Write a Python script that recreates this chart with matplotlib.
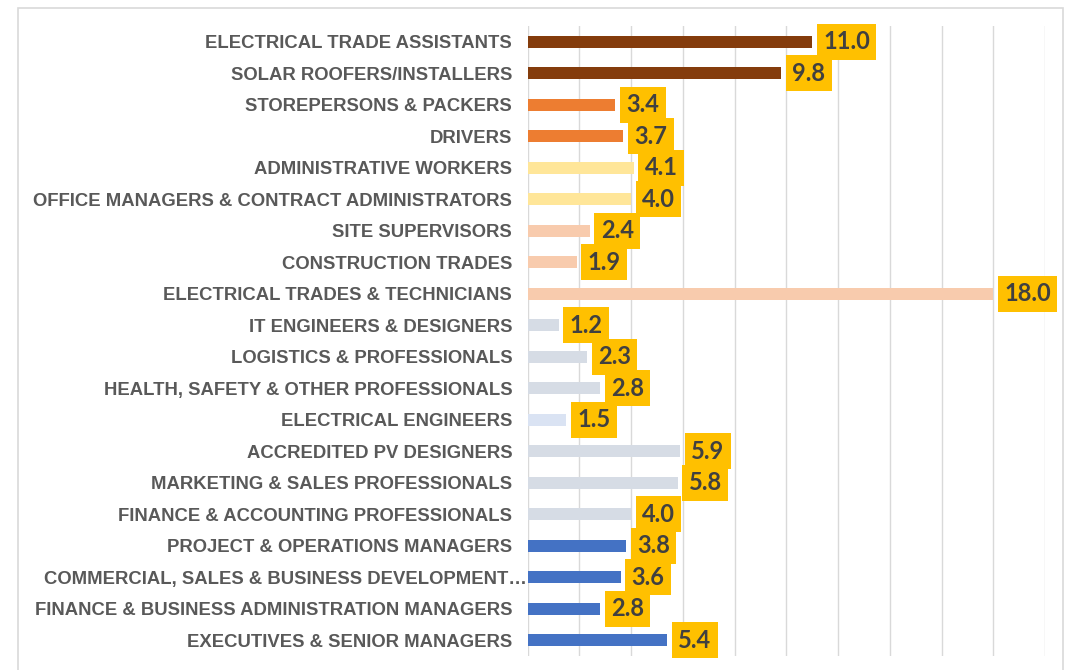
"""Horizontal bar chart of occupations with yellow value tags."""

import matplotlib

matplotlib.use('Agg')
import matplotlib.pyplot as plt
from matplotlib.patches import Rectangle
from matplotlib.transforms import ScaledTranslation

CATEGORIES = [
    'ELECTRICAL TRADE ASSISTANTS',
    'SOLAR ROOFERS/INSTALLERS',
    'STOREPERSONS & PACKERS',
    'DRIVERS',
    'ADMINISTRATIVE WORKERS',
    'OFFICE MANAGERS & CONTRACT ADMINISTRATORS',
    'SITE SUPERVISORS',
    'CONSTRUCTION TRADES',
    'ELECTRICAL TRADES & TECHNICIANS',
    'IT ENGINEERS & DESIGNERS',
    'LOGISTICS & PROFESSIONALS',
    'HEALTH, SAFETY & OTHER PROFESSIONALS',
    'ELECTRICAL ENGINEERS',
    'ACCREDITED PV DESIGNERS',
    'MARKETING & SALES PROFESSIONALS',
    'FINANCE & ACCOUNTING PROFESSIONALS',
    'PROJECT & OPERATIONS MANAGERS',
    'COMMERCIAL, SALES & BUSINESS DEVELOPMENT\u2026',
    'FINANCE & BUSINESS ADMINISTRATION MANAGERS',
    'EXECUTIVES & SENIOR MANAGERS',
]
VALUES = [11.0, 9.8, 3.4, 3.7, 4.1, 4.0, 2.4, 1.9, 18.0, 1.2,
          2.3, 2.8, 1.5, 5.9, 5.8, 4.0, 3.8, 3.6, 2.8, 5.4]

BROWN = '#843C0C'
ORANGE = '#ED7D31'
PALE_YELLOW = '#FFE699'
PEACH = '#F8CBAD'
BLUE_GREY = '#D6DCE5'
PALE_BLUE = '#DAE3F3'
BLUE = '#4472C4'
BAR_COLORS = [BROWN, BROWN, ORANGE, ORANGE, PALE_YELLOW, PALE_YELLOW,
              PEACH, PEACH, PEACH, BLUE_GREY, BLUE_GREY, BLUE_GREY, PALE_BLUE,
              BLUE_GREY, BLUE_GREY, BLUE_GREY, BLUE, BLUE, BLUE, BLUE]

TAG_COLOR = '#FFC000'
LABEL_COLOR = '#595959'
VALUE_COLOR = '#404040'
GRID_COLOR = '#D9D9D9'

fig = plt.figure(figsize=(10.68, 6.7), dpi=100)
ax = fig.add_axes([527.5 / 1068, 1 - 656 / 670, (1045 - 527.5) / 1068, 630 / 670])

# light frame around the whole chart
fig.patches.append(Rectangle((18 / 1068, -0.05), (1063 - 18) / 1068, 1 - 8 / 670 + 0.05,
                             transform=fig.transFigure, fill=False,
                             edgecolor=GRID_COLOR, linewidth=1.2))

ypos = list(range(len(CATEGORIES)))
ax.barh(ypos, VALUES, height=0.37, color=BAR_COLORS, zorder=2)

for y, v in zip(ypos, VALUES):
    ax.annotate(f'{v:.1f}', xy=(v, y), xytext=(8, 0), textcoords='offset points',
                ha='left', va='center', fontsize=17, fontweight='bold',
                family=['Lato', 'DejaVu Sans'], color=VALUE_COLOR, zorder=3,
                bbox=dict(boxstyle='square,pad=0.27', facecolor=TAG_COLOR, edgecolor='none'))

ax.set_xlim(0, 20)
ax.set_ylim(len(CATEGORIES) - 0.5, -0.5)
ax.set_xticks(range(0, 21, 2))
ax.set_xticklabels([])
ax.grid(True, axis='x', color=GRID_COLOR, linewidth=1.0, zorder=0)
ax.set_axisbelow(True)
ax.tick_params(axis='both', length=0)
for side in ('top', 'right', 'bottom', 'left'):
    ax.spines[side].set_visible(False)

ax.set_yticks(ypos)
ax.set_yticklabels(CATEGORIES, fontsize=13.3, fontweight='bold',
                   family='Liberation Sans', color=LABEL_COLOR)
ax.tick_params(axis='y', pad=11)

# truncated label runs right up to the axis
trunc = ax.get_yticklabels()[17]
trunc.set_transform(trunc.get_transform() + ScaledTranslation(15 / 100, 0, fig.dpi_scale_trans))

fig.savefig('out.png', dpi=100, facecolor='white')
